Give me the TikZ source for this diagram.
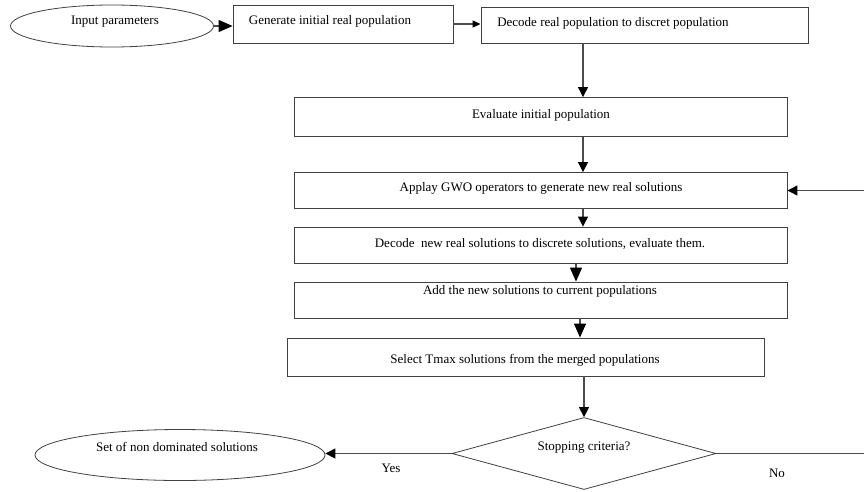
\documentclass[tikz,border=0pt]{standalone}
\usepackage{fontspec}
\setmainfont{Liberation Serif}
\usetikzlibrary{shapes.geometric,arrows.meta,calc}

\begin{document}
\begin{tikzpicture}[x=1pt,y=-1pt,
  box/.style={draw=black!75, line width=0.9pt, rectangle, inner sep=0pt},
  oval/.style={draw=black!75, line width=0.8pt, ellipse, inner sep=0pt},
  txt/.style={font=\fontsize{13}{15}\selectfont, inner sep=0pt},
  flow/.style={draw=black!70, line width=1.2pt, -{Triangle[length=10pt,width=10pt,color=black]}},
  bigflow/.style={flow, -{Triangle[length=14pt,width=12pt,color=black]}},
  smallflow/.style={flow, -{Triangle[length=8pt,width=7pt,color=black]}},
]
\useasboundingbox (0,0) rectangle (864,491);

% columns used by the vertical connectors
\coordinate (colA) at (583,0);
\coordinate (colB) at (576,0);
\coordinate (colC) at (580,0);
\coordinate (loopR) at (880,0);

% top row
\node[oval, minimum width=203pt, minimum height=42pt] (inp) at (112,26) {};
\node[txt] (inptxt) at (115,22) {Input parameters};

\node[box, minimum width=220pt, minimum height=38pt] (gen) at (343,24) {};
\node[txt] (gentxt) at (330,21) {Generate initial real population};

\node[box, minimum width=327pt, minimum height=36pt] (dec) at (644.5,25) {};
\node[txt] (dectxt) at (613,23) {Decode real population to discret population};

% main column
\node[box, minimum width=493pt, minimum height=39pt] (eval) at (540.5,117) {};
\node[txt] (evaltxt) at (541,115) {Evaluate initial population};

\node[box, minimum width=493pt, minimum height=36pt] (apply) at (540.5,190.5) {};
\node[txt] (applytxt) at (541,188) {Applay GWO operators to generate new real solutions};

\node[box, minimum width=493pt, minimum height=36pt] (decn) at (540.5,245) {};
\node[txt] (decntxt) at (540,244) {Decode\ \ new real solutions to discrete solutions, evaluate them.};

\node[box, minimum width=493pt, minimum height=36pt] (add) at (540.5,300) {};
\node[txt] (addtxt) at (540,291) {Add the new solutions to current populations};

\node[box, minimum width=477pt, minimum height=38pt] (sel) at (525.5,357) {};
\node[txt] (seltxt) at (525,360) {Select Tmax solutions from the merged populations};

% decision and result
\node[draw=black!75, line width=0.8pt, diamond, inner sep=0pt,
      minimum width=264pt, minimum height=72pt] (stop) at (584,453.5) {};
\node[txt] (stoptxt) at (584,448) {Stopping criteria?};

\node[oval, minimum width=290pt, minimum height=51pt] (sol) at (180,455) {};
\node[txt] (soltxt) at (177,447) {Set of non dominated solutions};

% connectors
\draw[bigflow] (inp.east) -- (inp.east -| gen.west);
\draw[smallflow] (gen.east) -- (gen.east -| dec.west);
\draw[flow] (dec.south -| colA) -- (eval.north -| colA);
\draw[flow] (eval.south -| colA) -- (apply.north -| colA);
\draw[flow] (apply.south -| colA) -- (decn.north -| colA);
\draw[bigflow] (decn.south -| colB) -- (add.north -| colB);
\draw[bigflow] (add.south -| colC) -- (sel.north -| colC);
\draw[flow] (sel.south -| stop.north) -- (stop.north);
\draw[flow] (stop.west) -- (stop.west -| sol.east)
  node[txt, pos=0.48, below=10pt] (yes) {Yes};
\draw[flow] (stop.east) -- (stop.east -| loopR) |- (apply.east);
\node[txt] (no) at (777,473) {No};
\end{tikzpicture}
\end{document}
